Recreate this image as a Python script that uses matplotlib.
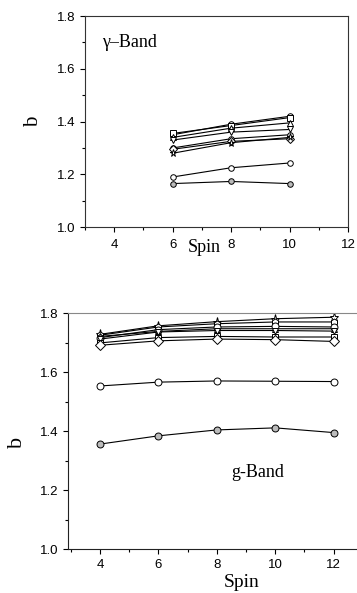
import numpy as np
import matplotlib.pyplot as plt
from matplotlib.ticker import MultipleLocator

# gamma band, spins 6..10
spin_gamma = [6, 8, 10]
gamma_series = [
    ([1.350, 1.390, 1.420], 'o', 'white'),
    ([1.355, 1.385, 1.415], 's', 'white'),
    ([1.340, 1.375, 1.395], '^', 'white'),
    ([1.330, 1.360, 1.370], 'v', 'white'),
    ([1.300, 1.335, 1.350], 'o', 'white'),
    ([1.295, 1.325, 1.335], 'D', 'white'),
    ([1.280, 1.320, 1.340], '*', 'white'),
    ([1.190, 1.225, 1.243], 'o', 'white'),
    ([1.165, 1.173, 1.165], 'o', '#bbbbbb'),
]

# ground band, spins 4..12
spin_g = [4, 6, 8, 10, 12]
g_series = [
    ([1.728, 1.757, 1.771, 1.781, 1.786], '*', 'white'),
    ([1.725, 1.753, 1.764, 1.770, 1.770], 'h', 'white'),
    ([1.721, 1.738, 1.747, 1.747, 1.747], '^', 'white'),
    ([1.717, 1.744, 1.753, 1.755, 1.753], 'o', 'white'),
    ([1.712, 1.736, 1.741, 1.741, 1.739], 'v', 'white'),
    ([1.699, 1.717, 1.721, 1.719, 1.719], 's', 'white'),
    ([1.691, 1.706, 1.712, 1.710, 1.704], 'D', 'white'),
    ([1.553, 1.566, 1.570, 1.569, 1.568], 'o', 'white'),
    ([1.356, 1.384, 1.404, 1.411, 1.395], 'o', '#bbbbbb'),
]

sans = ['Liberation Sans', 'DejaVu Sans']
serif = ['Liberation Serif', 'DejaVu Serif']

fig = plt.figure(figsize=(3.57, 5.93), dpi=100)
ax1 = fig.add_axes([0.238, 0.617, 0.737, 0.356])
ax2 = fig.add_axes([0.19, 0.074, 0.81, 0.398])


def draw(ax, x, series, ms):
    for vals, mk, fc in series:
        size = ms * 1.3 if mk == '*' else ms
        ax.plot(x, vals, color='black', lw=0.8, marker=mk, ms=size,
                mfc=fc, mec='black', mew=0.7)


def style(ax):
    ax.set_ylim(1.0, 1.8)
    ax.yaxis.set_major_locator(MultipleLocator(0.2))
    ax.yaxis.set_minor_locator(MultipleLocator(0.1))
    ax.xaxis.set_major_locator(MultipleLocator(2))
    ax.xaxis.set_minor_locator(MultipleLocator(1))
    ax.tick_params(which='both', direction='out', top=False, right=False,
                   labelsize=9.5, width=0.8)
    ax.tick_params(which='major', length=3.5)
    ax.tick_params(which='minor', length=2)
    for lab in ax.get_xticklabels() + ax.get_yticklabels():
        lab.set_family(sans)


draw(ax1, spin_gamma, gamma_series, 4)
ax1.set_xlim(3, 12)
style(ax1)
ax1.tick_params(axis='x', pad=5)
ax1.set_xlabel('Spin', family=serif, fontsize=13)
ax1.xaxis.set_label_coords(0.452, -0.095)
ax1.xaxis.label.set_va('center')
ax1.set_ylabel('b', family=serif, fontsize=15)
ax1.yaxis.set_label_coords(-0.16, 0.5)
ax1.text(3.6, 1.70, 'γ–Band', family=serif, fontsize=13, va='center')
for s in ax1.spines.values():
    s.set_color('#333333')
    s.set_linewidth(0.8)

draw(ax2, spin_g, g_series, 5)
ax2.set_xlim(2.9, 12.8)
style(ax2)
ax2.set_xlabel('Spin', family=serif, fontsize=14)
ax2.xaxis.set_label_coords(0.6, -0.142)
ax2.xaxis.label.set_va('center')
ax2.set_ylabel('b', family=serif, fontsize=16)
ax2.yaxis.set_label_coords(-0.14, 0.45)
ax2.text(8.5, 1.26, 'g-Band', family=serif, fontsize=13, va='center')
ax2.spines['right'].set_visible(False)
ax2.spines['top'].set_color('#888888')
for k in ('left', 'bottom'):
    ax2.spines[k].set_color('#222222')
    ax2.spines[k].set_linewidth(0.8)

fig.savefig('out.png', dpi=100)
